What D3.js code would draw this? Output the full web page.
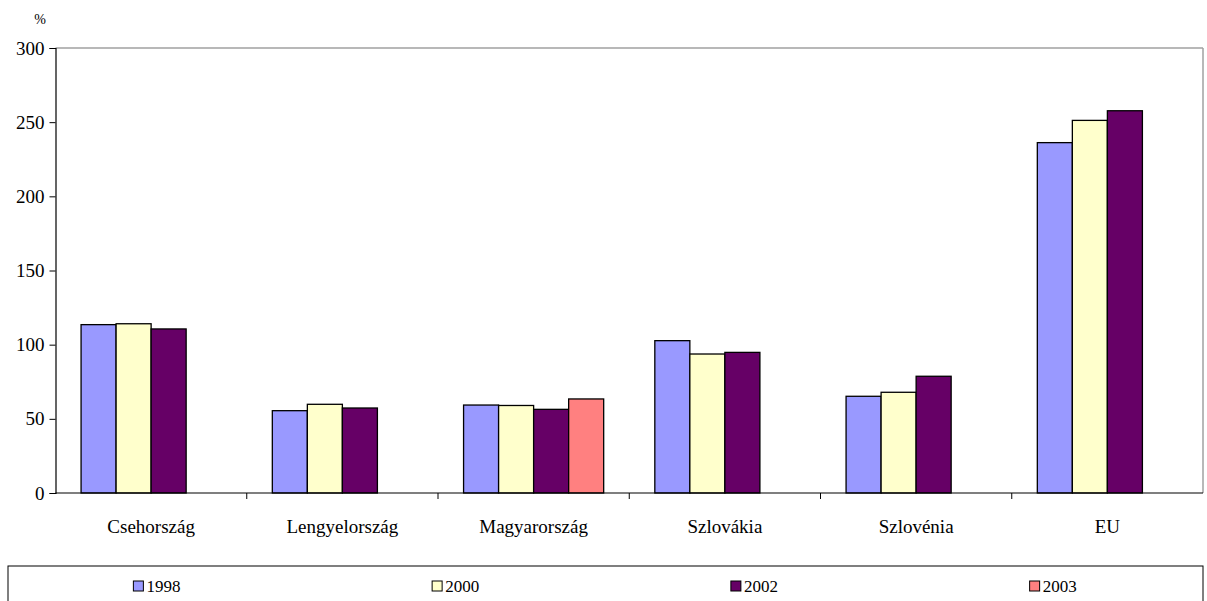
<!DOCTYPE html>
<html>
<head>
<meta charset="utf-8">
<script src="https://cdn.jsdelivr.net/npm/d3@7"></script>
<style>
  html, body { margin: 0; padding: 0; background: #fff; }
  .serif { font-family: "Liberation Serif", "Times New Roman", serif; }
</style>
</head>
<body>
<svg id="chart" width="1207" height="601" class="serif"></svg>
<script>
// Countries on the x axis
const categories = ["Csehország", "Lengyelország", "Magyarország", "Szlovákia", "Szlovénia", "EU"];
// Series (years) and their fills
const seriesNames = ["1998", "2000", "2002", "2003"];
const seriesColors = ["#9999FF", "#FFFFCC", "#660066", "#FF8080"];
// Values per year, in category order (null = no data)
const values1998 = [113.5, 55.5, 59.3, 102.7, 65.2, 236.2];
const values2000 = [114.1, 59.8, 59.0, 93.7, 67.9, 251.2];
const values2002 = [110.6, 57.3, 56.4, 94.8, 78.7, 257.7];
const values2003 = [null, null, 63.4, null, null, null];
const yTicks = [0, 50, 100, 150, 200, 250, 300];

const allSeries = [values1998, values2000, values2002, values2003];
const FONT = "Liberation Serif";

const svg = d3.select("#chart");
const plot = { left: 55.5, right: 1203, top: 48, bottom: 493 };

const x0 = d3.scaleBand().domain(categories).range([plot.left, plot.right]).paddingInner(0).paddingOuter(0);
const x1 = d3.scaleBand().domain(seriesNames).range([0, x0.bandwidth()]).paddingInner(0).paddingOuter(0.73);
const y = d3.scaleLinear().domain([0, 300]).range([plot.bottom, plot.top]);

// Plot frame: grey top and right edges
svg.append("line").attr("x1", plot.left).attr("x2", plot.right).attr("y1", y(300)).attr("y2", y(300))
  .attr("stroke", "#a0a0a0").attr("stroke-width", 1.5);
svg.append("line").attr("x1", plot.right).attr("x2", plot.right).attr("y1", plot.top).attr("y2", plot.bottom)
  .attr("stroke", "#a0a0a0").attr("stroke-width", 1.5);

// Bars
const rows = [];
categories.forEach((c, i) => {
  seriesNames.forEach((s, j) => {
    const v = allSeries[j][i];
    if (v !== null) rows.push({ c, s, v, color: seriesColors[j] });
  });
});
svg.append("g").selectAll("rect").data(rows).join("rect")
  .attr("x", d => x0(d.c) + x1(d.s))
  .attr("y", d => y(d.v))
  .attr("width", x1.bandwidth())
  .attr("height", d => y(0) - y(d.v))
  .attr("fill", d => d.color)
  .attr("stroke", "#000")
  .attr("stroke-width", 1.3);

// Y axis
const yAxis = svg.append("g").attr("transform", `translate(${plot.left},0)`)
  .call(d3.axisLeft(y).tickValues(yTicks).tickSize(6).tickPadding(5).tickFormat(d3.format("d")));
yAxis.attr("font-family", FONT).attr("font-size", 19);
yAxis.select(".domain").attr("stroke", "#000").attr("stroke-width", 1.2);
yAxis.selectAll(".tick line").attr("stroke", "#000");
yAxis.selectAll("text").attr("font-family", FONT).attr("font-size", 19).attr("fill", "#000");

// X axis with ticks between categories
const xAxis = svg.append("g").attr("transform", `translate(0,${plot.bottom})`);
xAxis.append("line").attr("x1", plot.left).attr("x2", plot.right).attr("stroke", "#000").attr("stroke-width", 1.2);
const boundaries = categories.map(c => x0(c)).concat([plot.right]);
xAxis.selectAll(".sep").data(boundaries.slice(1, -1)).join("line")
  .attr("x1", d => d).attr("x2", d => d).attr("y1", 0).attr("y2", 6).attr("stroke", "#000");
xAxis.selectAll(".cat").data(categories).join("text")
  .attr("x", d => x0(d) + x0.bandwidth() / 2)
  .attr("y", 40)
  .attr("text-anchor", "middle")
  .attr("font-family", FONT)
  .attr("font-size", 19)
  .text(d => d);

// Unit label above the value axis
svg.append("text").attr("x", 40).attr("y", 24).attr("text-anchor", "middle")
  .attr("font-family", FONT).attr("font-size", 14).text("%");

// Legend
const legendBox = { left: 8, right: 1203, top: 566, bottom: 608 };
svg.append("rect").attr("x", legendBox.left).attr("y", legendBox.top)
  .attr("width", legendBox.right - legendBox.left).attr("height", legendBox.bottom - legendBox.top)
  .attr("fill", "#fff").attr("stroke", "#000").attr("stroke-width", 1);
const slot = (legendBox.right - legendBox.left) / seriesNames.length;
const items = svg.append("g").selectAll("g").data(seriesNames).join("g")
  .attr("transform", (d, i) => `translate(${legendBox.left + slot * i + slot / 2 - 24},586)`);
items.append("rect").attr("x", 0).attr("y", -5).attr("width", 10).attr("height", 10)
  .attr("fill", (d, i) => seriesColors[i]).attr("stroke", "#000").attr("stroke-width", 1);
items.append("text").attr("x", 13).attr("y", 6)
  .attr("font-family", FONT).attr("font-size", 17).text(d => d);
</script>
</body>
</html>
